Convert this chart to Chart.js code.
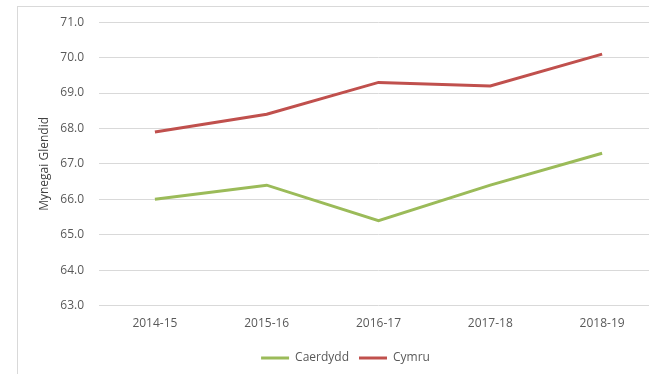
<!DOCTYPE html>
<html>
<head>
<meta charset="utf-8">
<script src="https://cdn.jsdelivr.net/npm/chart.js@4/dist/chart.umd.min.js"></script>
<style>
  html, body { margin: 0; padding: 0; background: #fff; overflow: hidden; }
  #frame {
    position: absolute; left: 17px; top: 6px; width: 700px; height: 400px;
    border-top: 1px solid #d9d9d9; border-left: 1px solid #d9d9d9;
  }
  #wrap { position: absolute; left: 0; top: 0; width: 663px; height: 374px; }
</style>
</head>
<body>
<div id="frame"></div>
<div id="wrap"><canvas id="lineChart"></canvas></div>
<script>
const years = ["2014-15", "2015-16", "2016-17", "2017-18", "2018-19"];
const caerdydd = [66.0, 66.4, 65.4, 66.4, 67.3];
const cymru = [67.9, 68.4, 69.3, 69.2, 70.1];
const yMin = 63, yMax = 71, yStep = 1;

const textColor = "#595959";
const font = { family: "'Open Sans', sans-serif", size: 12 };

const ctx = document.getElementById("lineChart").getContext("2d");

new Chart(ctx, {
    type: "line",
    data: {
        labels: years,
        datasets: [
            {
                label: "Caerdydd",
                data: caerdydd,
                borderColor: "#9bbb59",
                backgroundColor: "#9bbb59",
                borderWidth: 3,
                pointRadius: 0,
                tension: 0
            },
            {
                label: "Cymru",
                data: cymru,
                borderColor: "#c0504d",
                backgroundColor: "#c0504d",
                borderWidth: 3,
                pointRadius: 0,
                tension: 0
            }
        ]
    },
    options: {
        responsive: true,
        maintainAspectRatio: false,
        animation: false,
        layout: { padding: { left: 33, top: 19, right: 5, bottom: 0 } },
        plugins: {
            tooltip: { enabled: false },
            legend: {
                position: "bottom",
                labels: {
                    usePointStyle: true,
                    pointStyle: "line",
                    pointStyleWidth: 28,
                    color: textColor,
                    font: font,
                    padding: 10
                }
            }
        },
        scales: {
            x: {
                offset: true,
                grid: { display: false, drawTicks: false },
                border: { display: false },
                ticks: { color: textColor, font: font, padding: 11, maxRotation: 0 }
            },
            y: {
                min: yMin,
                max: yMax,
                afterFit: axis => { axis.width = 66; },
                grid: { color: "#d9d9d9", drawTicks: false },
                border: { display: false },
                ticks: {
                    stepSize: yStep,
                    color: textColor,
                    font: font,
                    padding: 15,
                    callback: v => v.toFixed(1)
                },
                title: {
                    display: true,
                    text: "Mynegai Glendid",
                    color: "#404040",
                    font: font
                }
            }
        }
    }
});
</script>
</body>
</html>
